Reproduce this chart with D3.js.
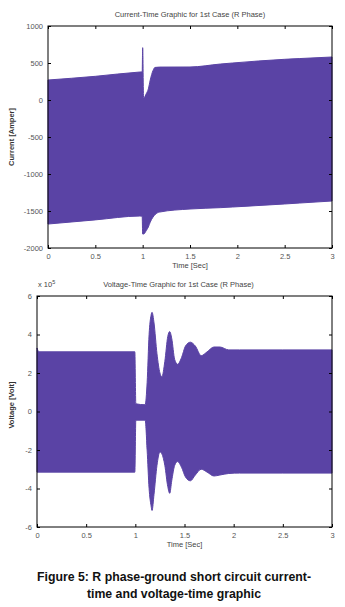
<!DOCTYPE html>
<html><head><meta charset="utf-8">
<script src="https://cdn.jsdelivr.net/npm/d3@7"></script>
<style>
body{margin:0;background:#fff;}
svg{display:block;font-family:"Liberation Sans",Arial,sans-serif;}
</style></head>
<body><svg id="c" width="345" height="607"></svg>
<script>
// ---- Data ----
// Current chart envelope (A)
const curTime  = [0, 0.5, 0.97, 0.995, 1.0, 1.01, 1.04, 1.06, 1.08, 1.11, 1.13, 1.18, 1.5, 1.82, 1.95, 2.5, 2.66, 3.0];
const curUpper = [270, 320, 378, 380, 707, 27, 90, 150, 270, 400, 440, 445, 446, 486, 500, 550, 560, 581];
const curLower = [-1676, -1620, -1568, -1570, -1811, -1811, -1760, -1716, -1650, -1581, -1550, -1514, -1473, -1455, -1446, -1405, -1392, -1365];
// Voltage chart envelope (x10^5 V)
const volTime  = [0, 0.02, 0.995, 1.005, 1.1, 1.12, 1.14, 1.16, 1.17, 1.19, 1.22, 1.25, 1.27, 1.3, 1.33, 1.35, 1.37, 1.4, 1.43, 1.47, 1.51, 1.56, 1.61, 1.67, 1.73, 1.8, 1.86, 1.95, 2.06, 2.5, 3.0];
const volUpper = [3.3, 3.1, 3.1, 0.4, 0.35, 1.5, 4.0, 5.0, 5.15, 4.6, 3.0, 2.0, 1.8, 2.6, 3.9, 4.15, 3.8, 2.7, 2.45, 2.8, 3.4, 3.6, 3.4, 2.9, 3.1, 3.35, 3.35, 3.2, 3.2, 3.2, 3.2];
const volLower = [-3.15, -3.15, -3.15, -0.45, -0.45, -2.0, -4.0, -4.9, -5.14, -4.3, -2.8, -2.1, -2.2, -2.8, -3.9, -4.25, -3.6, -2.8, -2.6, -2.9, -3.4, -3.6, -3.3, -3.0, -3.15, -3.35, -3.3, -3.22, -3.2, -3.2, -3.2];
// Ticks
const timeTicks = [0, 0.5, 1, 1.5, 2, 2.5, 3];
const curTicks = [1000, 500, 0, -500, -1000, -1500, -2000];
const volTicks = [6, 4, 2, 0, -2, -4, -6];

const svg = d3.select("#c");
const PURPLE = "#5a43a5";
const LBL = "#555";

function panel(o){
  const x = d3.scaleLinear().domain([0,3]).range([o.left,o.right]);
  const y = d3.scaleLinear().domain(o.ydom).range([o.bottom,o.top]);
  const g = svg.append("g");
  const area = d3.area().x((d,i)=>x(o.t[i])).y0((d,i)=>y(o.lo[i])).y1((d,i)=>y(o.up[i])).curve(d3.curveMonotoneX);
  g.append("path").datum(o.t).attr("d",area).attr("fill",PURPLE).attr("stroke",PURPLE).attr("stroke-width",1);
  const fmt = d=>String(d);
  const ax = [
    [d3.axisBottom(x).tickValues(timeTicks).tickFormat(fmt).tickSizeInner(-3).tickSizeOuter(0).tickPadding(6), `translate(0,${o.bottom})`],
    [d3.axisTop(x).tickValues(timeTicks).tickFormat("").tickSizeInner(-3).tickSizeOuter(0), `translate(0,${o.top})`],
    [d3.axisLeft(y).tickValues(o.yt).tickFormat(fmt).tickSizeInner(-3).tickSizeOuter(0).tickPadding(5), `translate(${o.left},0)`],
    [d3.axisRight(y).tickValues(o.yt).tickFormat("").tickSizeInner(-3).tickSizeOuter(0), `translate(${o.right},0)`]
  ];
  ax.forEach(([a,tr])=>{
    const gg = g.append("g").attr("transform",tr).call(a);
    gg.select(".domain").remove();
    gg.selectAll("line").attr("stroke","#000");
    gg.selectAll("text").attr("fill",LBL).style("font-size","7.5px").style("font-family","Liberation Sans, Arial, sans-serif");
  });
  g.append("rect").attr("x",o.left).attr("y",o.top).attr("width",o.right-o.left).attr("height",o.bottom-o.top)
    .attr("fill","none").attr("stroke","#000").attr("stroke-width",1);
  g.append("text").attr("x",(o.left+o.right)/2+o.tdx).attr("y",o.top-9).attr("text-anchor","middle")
    .attr("fill","#444").style("font-size","7.5px").text(o.title);
  g.append("text").attr("x",(o.left+o.right)/2).attr("y",o.bottom+20).attr("text-anchor","middle")
    .attr("fill","#444").style("font-size","7.5px").text("Time [Sec]");
  g.append("text").attr("transform",`translate(14,${o.ylc}) rotate(-90)`).attr("text-anchor","middle")
    .attr("fill","#333").style("font-size","7.5px").style("font-weight","bold").text(o.ylabel);
  return {x,y,g};
}

panel({left:48,right:332,top:26,bottom:248,ydom:[-2000,1000],yt:curTicks,t:curTime,up:curUpper,lo:curLower,
  title:"Current-Time Graphic for 1st Case (R Phase)",tdx:0,ylabel:"Current [Amper]",ylc:137});
const p2 = panel({left:37,right:332,top:296,bottom:527,ydom:[-6,6],yt:volTicks,t:volTime,up:volUpper,lo:volLower,
  title:"Voltage-Time Graphic for 1st Case (R Phase)",tdx:-6,ylabel:"Voltage [Volt]",ylc:405});
const ex = p2.g.append("text").attr("x",38).attr("y",287).attr("fill","#444").style("font-size","7.5px");
ex.append("tspan").text("x 10");
ex.append("tspan").attr("dy",-3).style("font-size","5.5px").text("5");

svg.append("text").attr("x",174).attr("y",581).attr("text-anchor","middle").style("font-size","12.3px").style("font-weight","bold")
  .attr("fill","#111").text("Figure 5: R phase-ground short circuit current-");
svg.append("text").attr("x",174).attr("y",598).attr("text-anchor","middle").style("font-size","12.3px").style("font-weight","bold")
  .attr("fill","#111").text("time and voltage-time graphic");
</script></body></html>
